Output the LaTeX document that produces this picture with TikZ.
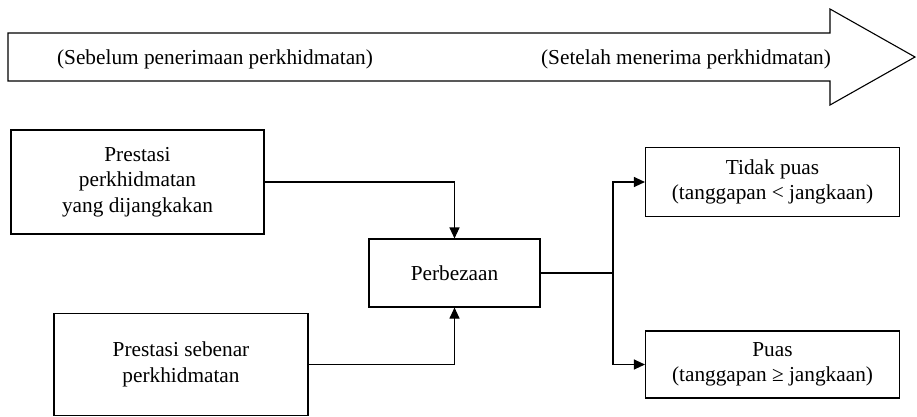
\documentclass[tikz,border=0pt]{standalone}
\usepackage{fontspec}
\setmainfont{Liberation Serif}
\usetikzlibrary{arrows.meta}
\begin{document}
\begin{tikzpicture}[x=1pt,y=-1pt,
  box/.style={draw,line width=1.1pt,align=center,inner sep=0pt,font=\fontsize{21.3}{25.5}\selectfont},
  conn/.style={line width=1.1pt},
  arr/.style={conn,-{Triangle[length=11pt,width=10pt]}},
  lbl/.style={font=\fontsize{21.3}{25.5}\selectfont}]
\useasboundingbox (0,0) rectangle (917,416);
% big arrow
\draw[line width=1.1pt] (8,33) -- (830,33) -- (830,9) -- (915,57) -- (830,105) -- (830,81) -- (8,81) -- cycle;
\node[lbl] (before) at (215,59) {(Sebelum penerimaan perkhidmatan)};
\node[lbl] (after) at (686,59) {(Setelah menerima perkhidmatan)};
% boxes
\node[box,minimum width=253pt,minimum height=104pt] (exp) at (137.5,182) {Prestasi\\perkhidmatan\\yang dijangkakan};
\node[box,minimum width=171pt,minimum height=68pt] (diff) at (454.5,273) {Perbezaan};
\node[box,minimum width=254pt,minimum height=102pt] (act) at (181,364.5) {Prestasi sebenar\\perkhidmatan};
\node[box,minimum width=254pt,minimum height=69pt] (nsat) at (772.5,182) {Tidak puas\\(tanggapan < jangkaan)};
\node[box,minimum width=254pt,minimum height=67pt] (sat) at (772.5,364.5) {Puas\\(tanggapan ≥ jangkaan)};
% connectors
\draw[arr] (exp.east) -| (diff.north);
\draw[arr] (act.east) -| (diff.south);
\coordinate (br) at (613,273);
\draw[conn] (diff.east) -- (br);
\draw[arr] (br) |- (nsat.west);
\draw[arr] (br) |- (sat.west);
\end{tikzpicture}
\end{document}
